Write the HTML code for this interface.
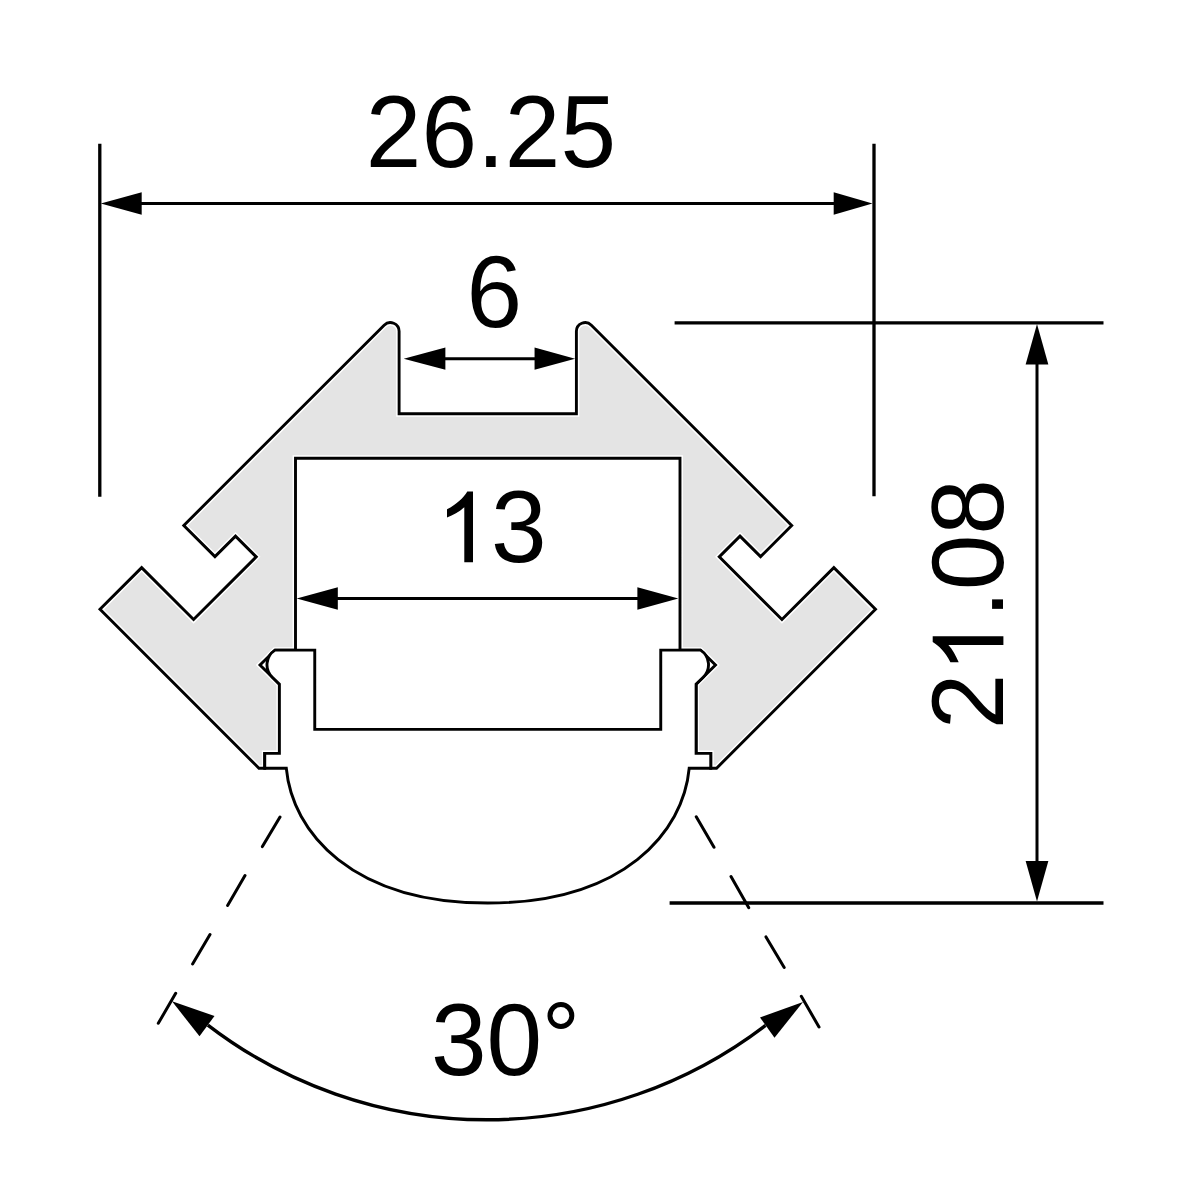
<!DOCTYPE html>
<html><head><meta charset="utf-8"><title>Profile drawing</title>
<style>html,body{margin:0;padding:0;background:#fff;width:1200px;height:1200px;overflow:hidden}
svg text{font-family:"Liberation Sans",sans-serif}</style></head>
<body>
<svg width="1200" height="1200" viewBox="0 0 1200 1200" style="display:block">
<rect width="1200" height="1200" fill="#fff"/>
<path d="M 399.1 413.8 L 399.1 331.37 A 8.77 8.77 0 0 0 384.13 325.17 L 183.8 525.5 L 214.95 556.65 L 235.5 536.1 L 256.25 556.85 L 193.55 619.55 L 141.65 567.65 L 100 609.3 L 258.95 768.25 L 264.75 768.25 L 264.75 753.4 L 279.4 753.4 L 279.4 684.2 L 260 665 L 275 650.13 L 295.5 650.13 L 295.5 458.2 L 680 458.2 L 680 650.13 L 700.5 650.13 L 715.5 665 L 696.1 684.2 L 696.1 753.4 L 710.75 753.4 L 710.75 768.25 L 716.55 768.25 L 875.5 609.3 L 833.85 567.65 L 781.95 619.55 L 719.25 556.85 L 740 536.1 L 760.55 556.65 L 791.7 525.5 L 591.37 325.17 A 8.77 8.77 0 0 0 576.4 331.37 L 576.4 413.8 Z" fill="#e4e4e4" stroke="#fff" stroke-width="5.9" stroke-linejoin="miter"/>
<path d="M 399.1 413.8 L 399.1 331.37 A 8.77 8.77 0 0 0 384.13 325.17 L 183.8 525.5 L 214.95 556.65 L 235.5 536.1 L 256.25 556.85 L 193.55 619.55 L 141.65 567.65 L 100 609.3 L 258.95 768.25 L 264.75 768.25 L 264.75 753.4 L 279.4 753.4 L 279.4 684.2 L 260 665 L 275 650.13 L 295.5 650.13 L 295.5 458.2 L 680 458.2 L 680 650.13 L 700.5 650.13 L 715.5 665 L 696.1 684.2 L 696.1 753.4 L 710.75 753.4 L 710.75 768.25 L 716.55 768.25 L 875.5 609.3 L 833.85 567.65 L 781.95 619.55 L 719.25 556.85 L 740 536.1 L 760.55 556.65 L 791.7 525.5 L 591.37 325.17 A 8.77 8.77 0 0 0 576.4 331.37 L 576.4 413.8 Z" fill="none" stroke="#000" stroke-width="2.9" stroke-linejoin="miter"/>
<path d="M 314.75 729.4 L 314.75 650.13 L 275 650.13 A 17.4 17.4 0 0 0 272.3 677.3 L 279.4 684.2 L 279.4 753.4 L 264.75 753.4 L 264.75 768.25 L 286.3 768.25 C 292.11 832 351.68 903.03 487.75 903.03 C 623.82 903.03 683.39 832 689.2 768.25 L 689.2 768.25 L 710.75 768.25 L 710.75 753.4 L 696.1 753.4 L 696.1 684.2 L 703.2 677.3 A 17.4 17.4 0 0 0 700.5 650.13 L 660.75 650.13 L 660.75 729.4 Z" fill="#fff" stroke="#000" stroke-width="2.9" stroke-linejoin="miter"/>
<g stroke="#000" fill="none" stroke-linecap="butt">
<path d="M 99.8 143.8 V 496.7 M 874 143.8 V 496.2" stroke-width="3.3"/>
<path d="M 130 203.4 H 845" stroke-width="3.0"/>
<path d="M 674.6 322.8 H 1103.5 M 669.6 903 H 1103.5" stroke-width="3.3"/>
<path d="M 1037 350 V 875" stroke-width="3.0"/>
<path d="M 430 358.67 H 550" stroke-width="3.0"/>
<path d="M 320 598.55 H 655" stroke-width="3.0"/>
<path d="M 280 817 L 262.4 846.6 M 245 875.6 L 227.6 905.4 M 210 934.6 L 192.6 964 M 175.7 993.3 L 158.3 1023.3 M 696.25 816.7 L 714 847.3 M 731 876.5 L 748.75 907.7 M 766 936.9 L 784.2 967.5 M 801.3 996.3 L 819 1027 " stroke-width="3" stroke-linecap="round"/>
<path d="M 207.86 1025.03 A 458.2 458.2 0 0 0 765.53 1025.35" stroke-width="3.4"/>
</g>
<g fill="#000">
<path d="M 100.8 203.4 L 141.7 192.15 L 141.7 214.65 Z"/>
<path d="M 872.5 203.4 L 833.7 214.65 L 833.7 192.15 Z"/>
<path d="M 403.7 358.67 L 445.4 347.57 L 445.4 369.77 Z"/>
<path d="M 575.1 358.67 L 534.55 369.77 L 534.55 347.57 Z"/>
<path d="M 1037 324 L 1048.35 364.5 L 1025.65 364.5 Z"/>
<path d="M 1037 901.5 L 1025.65 861 L 1048.35 861 Z"/>
<path d="M 172 1001.3 L 214.5 1016 L 199.5 1036.3 Z"/>
<path d="M 803 1002 L 760 1017.5 L 774.5 1037.7 Z"/>
</g>
<g fill="#000"><path d="M 296.7 598.55 L 337.8 587.35 L 337.8 609.75 Z"/><path d="M 678.35 598.55 L 637.4 609.75 L 637.4 587.35 Z"/></g>
<g font-family="Liberation Sans, sans-serif" font-size="100" fill="#000">
<text transform="translate(365.8 167) scale(1 1.025)">26.25</text>
<text transform="translate(466.5 327) scale(1 1.025)">6</text>
<g transform="translate(435.5 562.3) scale(1 1.025)"><path transform="scale(1 0.9756)" d="M 28.8 0 H 37.5 V -70.7 H 31.8 C 28.5 -65 21 -57.5 11.5 -53 V -44.7 C 18 -47.5 24.5 -51 28.8 -55 Z"/><text x="55.615" y="0">3</text></g>
<text transform="translate(431 1075) scale(1 1.025)">30</text>
<circle cx="560.9" cy="1015.5" r="10.9" fill="none" stroke="#000" stroke-width="5"/>
<g transform="translate(1003.4 729.3) rotate(-90) scale(1 1.025)"><text x="0" y="0">2</text><path transform="translate(55.615 0) scale(1 0.9756)" d="M 28.8 0 H 37.5 V -70.7 H 31.8 C 28.5 -65 21 -57.5 11.5 -53 V -44.7 C 18 -47.5 24.5 -51 28.8 -55 Z"/><text x="111.23" y="0">.08</text></g>
</g>
</svg>
</body></html>
